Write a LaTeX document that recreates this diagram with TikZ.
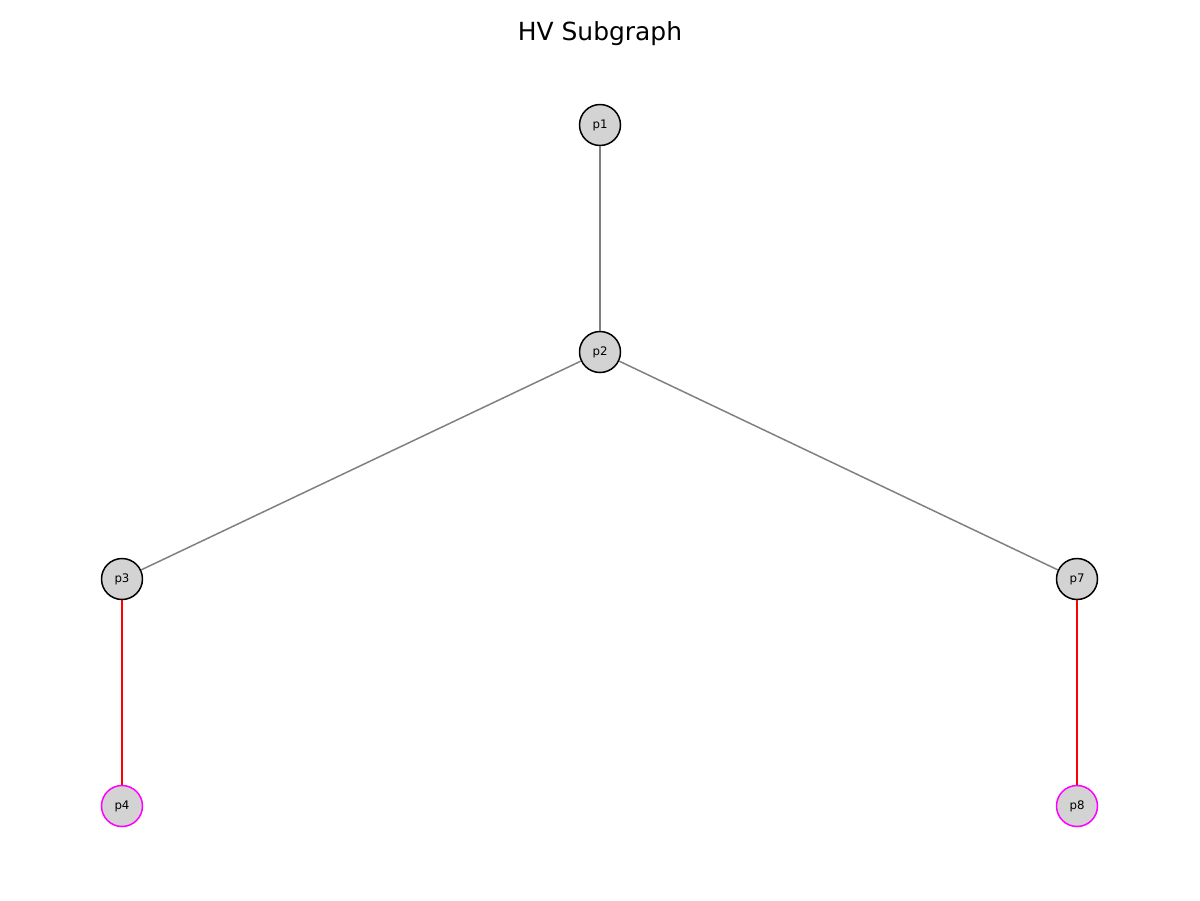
\documentclass[tikz,border=0pt]{standalone}
\usepackage{fontspec}
\setmainfont{DejaVu Sans}
\definecolor{nodegray}{RGB}{211,211,211}
\definecolor{edgegray}{RGB}{128,128,128}
\definecolor{hvred}{RGB}{255,0,0}
\definecolor{hvmagenta}{RGB}{255,0,255}
\begin{document}
\begin{tikzpicture}[x=0.02cm, y=-0.02cm,
    vertex/.style={circle, draw=black, fill=nodegray, line width=0.85pt,
      minimum size=0.82cm, inner sep=0pt, font=\fontsize{6.7}{8}\selectfont},
    leaf/.style={vertex, draw=hvmagenta},
    link/.style={draw=edgegray, line width=0.85pt},
    hvlink/.style={draw=hvred, line width=0.85pt}]

  % Canvas
  \useasboundingbox (0,0) rectangle (1200,900);

  % Title
  \node (title) at (600,34) {\fontsize{14.2}{16}\selectfont HV Subgraph};

  % Nodes
  \node[vertex] (p1) at (600,125) {p1};
  \node[vertex] (p2) at (600,352) {p2};
  \node[vertex] (p3) at (122,579) {p3};
  \node[vertex] (p7) at (1077,579) {p7};
  \node[leaf]   (p4) at (122,806) {p4};
  \node[leaf]   (p8) at (1077,806) {p8};

  % Edges
  \draw[link] (p1) -- (p2);
  \draw[link] (p2) -- (p3);
  \draw[link] (p2) -- (p7);
  \draw[hvlink] (p3) -- (p4);
  \draw[hvlink] (p7) -- (p8);
\end{tikzpicture}
\end{document}
